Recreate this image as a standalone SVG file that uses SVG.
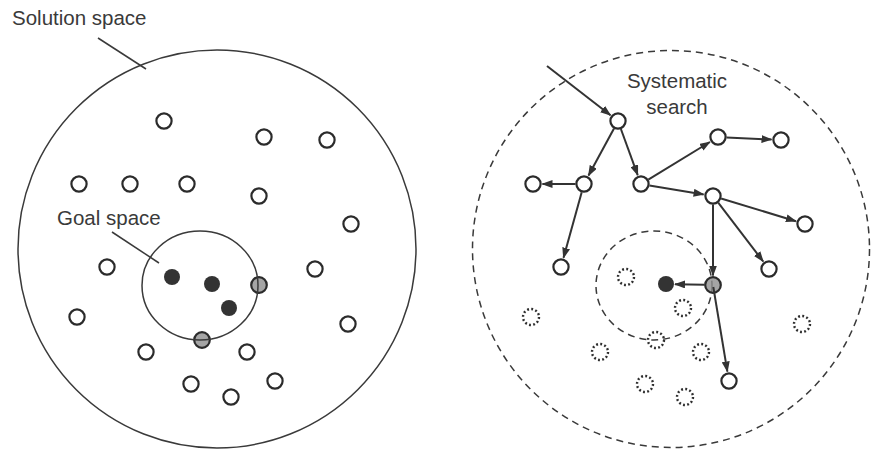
<svg xmlns="http://www.w3.org/2000/svg" width="879" height="453" viewBox="0 0 879 453">
  <defs>
    <style>
      .bg { fill: #ffffff; }
      .lbl { font-family: "Liberation Sans", Arial, sans-serif; font-size: 20.5px; fill: #3a3a3a; }
      .space { fill: none; stroke: #3a3a3a; stroke-width: 1.5; }
      .dashed { fill: none; stroke: #3a3a3a; stroke-width: 1.5; stroke-dasharray: 7 5; }
      .leader { fill: none; stroke: #3a3a3a; stroke-width: 1.5; }
      .open { fill: #ffffff; stroke: #2b2b2b; stroke-width: 2.2; }
      .goal { fill: #333333; stroke: none; }
      .edge { fill: #8f8f8f; fill-opacity: 0.8; stroke: #2b2b2b; stroke-width: 2.2; }
      .dotted { fill: none; stroke: #2e2e2e; stroke-width: 2.4; stroke-dasharray: 1.9 2.29; }
      .conn { fill: none; stroke: #333333; stroke-width: 2; marker-end: url(#arrow); }
    </style>
    <marker id="arrow" markerUnits="userSpaceOnUse" viewBox="0 0 11 8" markerWidth="11" markerHeight="8" refX="10" refY="4" orient="auto">
      <path d="M0,0 L11,4 L0,8 z" fill="#333333"/>
    </marker>
  </defs>
  <rect class="bg" x="0" y="0" width="879" height="453"/>

  <!-- LEFT PANEL -->
  <g id="solution-space">
    <circle class="space" cx="217" cy="249" r="199"/>
    <line class="leader" x1="98" y1="38" x2="146" y2="69"/>
    <text class="lbl" x="12" y="25">Solution space</text>
  </g>
  <g id="left-nodes">
    <circle class="open" cx="164" cy="121" r="7.6"/>
    <circle class="open" cx="264" cy="137" r="7.6"/>
    <circle class="open" cx="327" cy="140" r="7.6"/>
    <circle class="open" cx="79" cy="184" r="7.6"/>
    <circle class="open" cx="130" cy="184" r="7.6"/>
    <circle class="open" cx="187" cy="184" r="7.6"/>
    <circle class="open" cx="259" cy="196" r="7.6"/>
    <circle class="open" cx="351" cy="224" r="7.6"/>
    <circle class="open" cx="107" cy="267" r="7.6"/>
    <circle class="open" cx="315" cy="269" r="7.6"/>
    <circle class="open" cx="77" cy="317" r="7.6"/>
    <circle class="open" cx="348" cy="324" r="7.6"/>
    <circle class="open" cx="146" cy="352" r="7.6"/>
    <circle class="open" cx="247" cy="352" r="7.6"/>
    <circle class="open" cx="191" cy="384" r="7.6"/>
    <circle class="open" cx="231" cy="397" r="7.6"/>
    <circle class="open" cx="275" cy="381" r="7.6"/>
    <circle class="goal" cx="172" cy="277" r="8"/>
    <circle class="goal" cx="212" cy="284" r="8"/>
    <circle class="goal" cx="229" cy="308" r="8"/>
    <circle class="edge" cx="259" cy="285" r="7.8"/>
    <circle class="edge" cx="202" cy="340" r="7.8"/>
  </g>
  <g id="goal-space">
    <ellipse class="space" cx="200" cy="285.5" rx="58" ry="54.5"/>
    <line class="leader" x1="112" y1="232" x2="159" y2="263"/>
    <text class="lbl" x="57" y="225">Goal space</text>
  </g>

  <!-- RIGHT PANEL -->
  <g id="search-space">
    <circle class="dashed" cx="671" cy="249" r="198.5"/>
    <text class="lbl" x="677" y="88" text-anchor="middle">Systematic</text>
    <text class="lbl" x="677" y="114" text-anchor="middle">search</text>
  </g>
  <g id="right-goal-space">
    <ellipse class="dashed" cx="654" cy="285.5" rx="58" ry="54.5"/>
  </g>
  <g id="unvisited">
    <circle class="dotted" cx="626" cy="277" r="8"/>
    <circle class="dotted" cx="683" cy="308" r="8"/>
    <circle class="dotted" cx="531" cy="317" r="8"/>
    <circle class="dotted" cx="802" cy="324" r="8"/>
    <circle class="dotted" cx="656" cy="340" r="8"/>
    <circle class="dotted" cx="600" cy="352" r="8"/>
    <circle class="dotted" cx="701" cy="352" r="8"/>
    <circle class="dotted" cx="645" cy="384" r="8"/>
    <circle class="dotted" cx="685" cy="397" r="8"/>
  </g>
  <g id="node-A"><circle class="open" cx="618" cy="121" r="7.6"/></g>
  <g id="node-B"><circle class="open" cx="584" cy="184" r="7.6"/></g>
  <g id="node-C"><circle class="open" cx="533" cy="184" r="7.6"/></g>
  <g id="node-D"><circle class="open" cx="641" cy="184" r="7.6"/></g>
  <g id="node-E"><circle class="open" cx="718" cy="137" r="7.6"/></g>
  <g id="node-F"><circle class="open" cx="781" cy="140" r="7.6"/></g>
  <g id="node-G"><circle class="open" cx="713" cy="196" r="7.6"/></g>
  <g id="node-H"><circle class="open" cx="805" cy="224" r="7.6"/></g>
  <g id="node-I"><circle class="open" cx="561" cy="267" r="7.6"/></g>
  <g id="node-J"><circle class="open" cx="769" cy="269" r="7.6"/></g>
  <g id="node-K"><circle class="edge" cx="713" cy="285" r="7.8"/></g>
  <g id="node-L"><circle class="goal" cx="666" cy="284" r="8"/></g>
  <g id="node-M"><circle class="open" cx="729" cy="381" r="7.6"/></g>

  <g id="connectors">
    <line class="conn" x1="547" y1="66" x2="610.5" y2="115.2"/>
    <line class="conn" x1="614" y1="128.5" x2="588.5" y2="175.6"/>
    <line class="conn" x1="620.9" y1="129" x2="637.7" y2="175.1"/>
    <line class="conn" x1="575.5" y1="184" x2="542.5" y2="184"/>
    <line class="conn" x1="581.7" y1="192.2" x2="563.5" y2="257.8"/>
    <line class="conn" x1="648.3" y1="179.6" x2="709.9" y2="142"/>
    <line class="conn" x1="649.4" y1="185.4" x2="703.6" y2="194.4"/>
    <line class="conn" x1="726.5" y1="137.4" x2="771.5" y2="139.5"/>
    <line class="conn" x1="721.1" y1="198.5" x2="795.9" y2="221.2"/>
    <line class="conn" x1="718.2" y1="202.7" x2="763.2" y2="261.5"/>
    <line class="conn" x1="713" y1="204.5" x2="713" y2="275.5"/>
    <line class="conn" x1="704.5" y1="284.8" x2="675" y2="284.2"/>
    <line class="conn" x1="713.3" y1="287" x2="727.4" y2="371.6"/>
  </g>
</svg>
